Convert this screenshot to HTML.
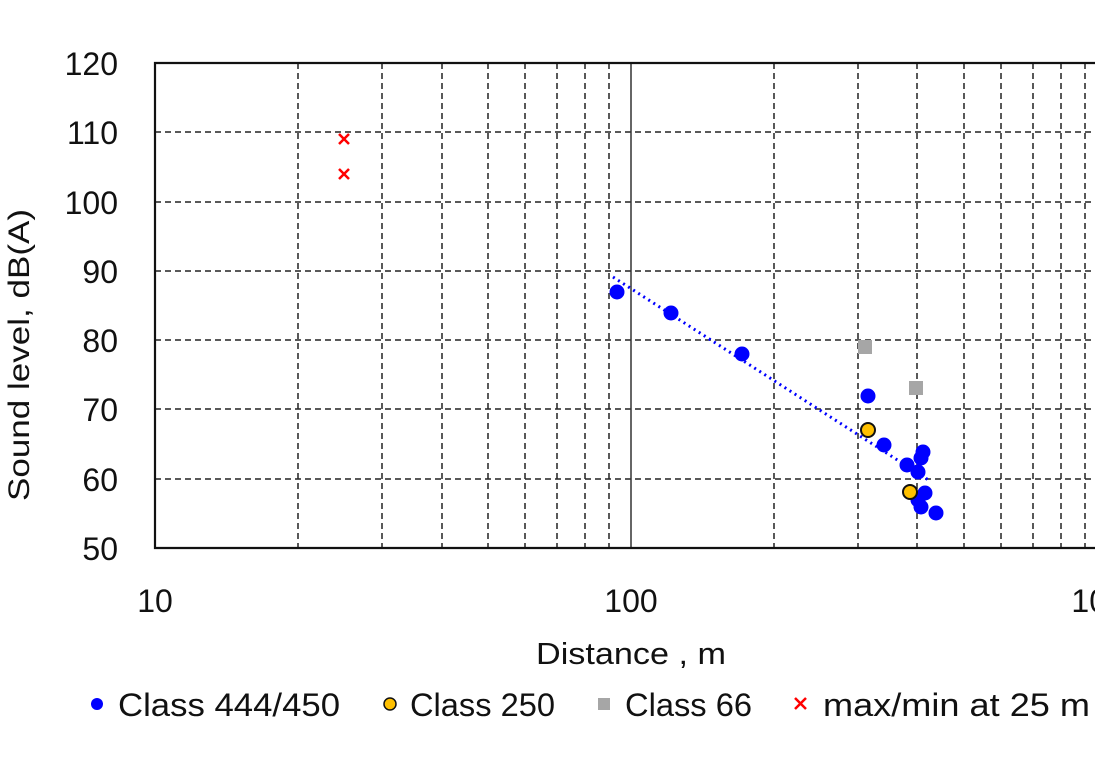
<!DOCTYPE html>
<html><head><meta charset="utf-8"><style>body{margin:0;background:#fff}</style></head><body>
<svg width="1095" height="758" xmlns="http://www.w3.org/2000/svg" font-family="Liberation Sans, sans-serif">
<rect width="1095" height="758" fill="#fff"/>
<g stroke="#222" stroke-width="1.5" stroke-dasharray="6,4">
<line x1="155" y1="132" x2="1095" y2="132"/><line x1="155" y1="202" x2="1095" y2="202"/>
<line x1="155" y1="271" x2="1095" y2="271"/><line x1="155" y1="340" x2="1095" y2="340"/>
<line x1="155" y1="409" x2="1095" y2="409"/><line x1="155" y1="479" x2="1095" y2="479"/>
<line x1="298" y1="63" x2="298" y2="548"/><line x1="382" y1="63" x2="382" y2="548"/>
<line x1="442" y1="63" x2="442" y2="548"/><line x1="488" y1="63" x2="488" y2="548"/>
<line x1="525" y1="63" x2="525" y2="548"/><line x1="557" y1="63" x2="557" y2="548"/>
<line x1="585" y1="63" x2="585" y2="548"/><line x1="609" y1="63" x2="609" y2="548"/>
<line x1="774" y1="63" x2="774" y2="548"/><line x1="858" y1="63" x2="858" y2="548"/>
<line x1="917" y1="63" x2="917" y2="548"/><line x1="964" y1="63" x2="964" y2="548"/>
<line x1="1001" y1="63" x2="1001" y2="548"/><line x1="1033" y1="63" x2="1033" y2="548"/>
<line x1="1061" y1="63" x2="1061" y2="548"/><line x1="1085" y1="63" x2="1085" y2="548"/>
</g>
<line x1="631" y1="63" x2="631" y2="548" stroke="#333" stroke-width="1.5"/>
<polyline points="1095,63 155,63 155,548 1095,548" fill="none" stroke="#111" stroke-width="2.2"/>
<g font-size="32" fill="#111" text-anchor="end">
<text x="118" y="75">120</text><text x="118" y="144">110</text><text x="118" y="214">100</text>
<text x="118" y="283">90</text><text x="118" y="352">80</text><text x="118" y="421">70</text>
<text x="118" y="491">60</text><text x="118" y="560">50</text></g>
<g font-size="32" fill="#111" text-anchor="middle">
<text x="155" y="612">10</text><text x="631" y="612">100</text><text x="1107" y="612">1000</text></g>
<text x="536" y="664" font-size="31" fill="#111" textLength="190" lengthAdjust="spacingAndGlyphs">Distance , m</text>
<text transform="translate(29,355) rotate(-90)" font-size="30" fill="#111" text-anchor="middle" textLength="292" lengthAdjust="spacingAndGlyphs">Sound level, dB(A)</text>
<line x1="613" y1="277" x2="930" y2="481" stroke="#0000ff" stroke-width="3" stroke-dasharray="2,4"/>
<g fill="#0000ff">
<circle cx="617" cy="292" r="7.5"/><circle cx="671" cy="313" r="7.5"/><circle cx="742" cy="354" r="7.5"/>
<circle cx="868" cy="396" r="7.5"/><circle cx="884" cy="445" r="7.5"/><circle cx="907" cy="465" r="7.5"/>
<circle cx="923" cy="452" r="7.5"/><circle cx="921" cy="458" r="7.5"/><circle cx="918" cy="472" r="7.5"/>
<circle cx="925" cy="493" r="7.5"/><circle cx="918" cy="500" r="7.5"/><circle cx="921" cy="507" r="7.5"/>
<circle cx="936" cy="513" r="7.5"/></g>
<g fill="#ffc000" stroke="#111" stroke-width="2"><circle cx="868" cy="430" r="7"/><circle cx="910" cy="492" r="7"/></g>
<g fill="#a6a6a6"><rect x="858" y="340" width="14" height="14"/><rect x="909" y="381" width="14" height="14"/></g>
<g stroke="#ff0000" stroke-width="2.5"><path d="M339 134l10 10M349 134l-10 10M339 169l10 10M349 169l-10 10"/></g>
<g font-size="32" fill="#111">
<circle cx="97" cy="704" r="6" fill="#0000ff"/><text x="118" y="716" textLength="222" lengthAdjust="spacingAndGlyphs">Class 444/450</text>
<circle cx="390" cy="704" r="6" fill="#ffc000" stroke="#111" stroke-width="1.5"/><text x="410" y="716" textLength="145" lengthAdjust="spacingAndGlyphs">Class 250</text>
<rect x="598" y="698" width="12" height="12" fill="#a6a6a6"/><text x="625" y="716" textLength="127" lengthAdjust="spacingAndGlyphs">Class 66</text>
<path d="M795 698l11 11M806 698l-11 11" stroke="#ff0000" stroke-width="2.5"/><text x="823" y="716" textLength="267" lengthAdjust="spacingAndGlyphs">max/min at 25 m</text></g>
</svg>
</body></html>
